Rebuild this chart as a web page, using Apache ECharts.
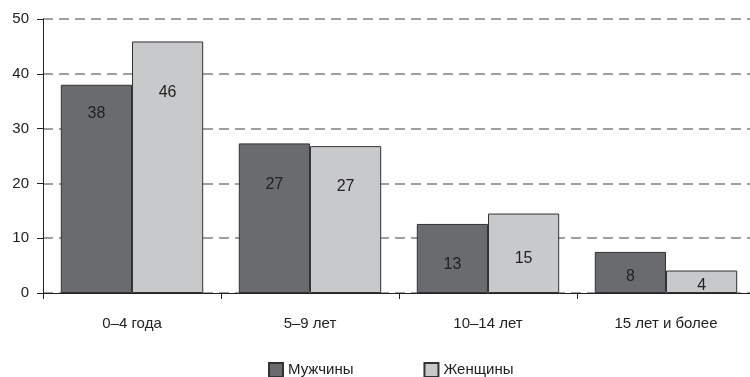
<!DOCTYPE html>
<html>
<head>
<meta charset="utf-8">
<script src="https://cdn.jsdelivr.net/npm/echarts@6/dist/echarts.min.js"></script>
<style>
html,body{margin:0;padding:0;background:#fff;}
#chart{width:750px;height:377px;}
</style>
</head>
<body>
<div id="chart"></div>
<script>
var categories = ['0–4 года', '5–9 лет', '10–14 лет', '15 лет и более'];
var seriesNames = ['Мужчины', 'Женщины'];
var menValues = [38.0, 27.3, 12.6, 7.5];
var womenValues = [45.9, 26.8, 14.5, 4.1];
var yTicks = [0, 10, 20, 30, 40, 50];
// label vertical offsets (styling only)
var menLabelOffsets = [16, 28, 28, 12];
var womenLabelOffsets = [38, 27, 32, 2];

var FONT = '"Liberation Sans Narrow", "Liberation Sans", Arial, sans-serif';
var chart = echarts.init(document.getElementById('chart'), null, {renderer: 'canvas'});

function buildData(vals, offs) {
  return vals.map(function (v, i) {
    return {value: v, label: {offset: [0, offs[i]]}};
  });
}

var labelStyle = {
  show: true,
  position: 'insideTop',
  distance: 5,
  color: '#222',
  fontSize: 16,
  fontFamily: FONT,
  formatter: function (p) { return Math.round(p.value); }
};

chart.setOption({
  animation: false,
  textStyle: {fontFamily: FONT},
  grid: {left: 43, width: 712, top: 19, height: 274, containLabel: false, outerBoundsMode: 'none'},
  legend: {
    data: seriesNames,
    top: 357,
    left: 263,
    itemWidth: 14,
    itemHeight: 14,
    itemGap: 70,
    icon: 'rect',
    textStyle: {fontSize: 15, color: '#222', fontFamily: FONT}
  },
  xAxis: {
    type: 'category',
    data: categories,
    axisLine: {lineStyle: {color: '#222', width: 1}},
    axisTick: {show: true, length: 6, lineStyle: {color: '#222'}},
    axisLabel: {color: '#222', fontSize: 15, margin: 23, fontFamily: FONT},
    splitLine: {show: false}
  },
  yAxis: {
    type: 'value',
    min: yTicks[0],
    max: yTicks[yTicks.length - 1],
    interval: 10,
    axisLine: {show: true, lineStyle: {color: '#222', width: 1}},
    axisTick: {show: true, length: 6, lineStyle: {color: '#222'}},
    axisLabel: {color: '#222', fontSize: 15, margin: 14, fontFamily: FONT},
    splitLine: {show: true, lineStyle: {color: '#808080', width: 1.5, type: [10, 6]}}
  },
  series: [
    {
      name: seriesNames[0],
      type: 'bar',
      data: buildData(menValues, menLabelOffsets),
      barGap: '0%',
      barCategoryGap: '20%',
      itemStyle: {color: '#6a6b6f', borderColor: '#333', borderWidth: 1},
      label: labelStyle
    },
    {
      name: seriesNames[1],
      type: 'bar',
      data: buildData(womenValues, womenLabelOffsets),
      barGap: '0%',
      barCategoryGap: '20%',
      itemStyle: {color: '#c8c9cb', borderColor: '#333', borderWidth: 1},
      label: labelStyle
    }
  ]
});
</script>
</body>
</html>
